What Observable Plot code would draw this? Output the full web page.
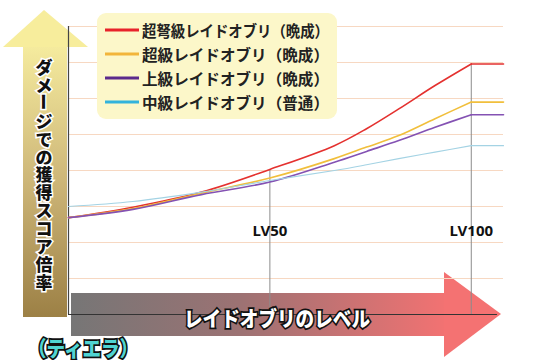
<!DOCTYPE html>
<html><head><meta charset="utf-8">
<script src="https://cdn.jsdelivr.net/npm/d3@7"></script>
<script src="https://cdn.jsdelivr.net/npm/@observablehq/plot@0.6"></script>
<style>body{margin:0;background:#fff;overflow:hidden}</style>
</head><body><div id="chart"></div>
<script>
// ---- data ----
const levels = [0, 16, 33, 50, 66, 74, 82, 91, 100, 108];
const seriesNames = ["超弩級レイドオブリ（晩成）", "超級レイドオブリ（晩成）", "上級レイドオブリ（晩成）", "中級レイドオブリ（普通）"];
const redValues    = [2.69, 2.98, 3.40, 4.03, 4.69, 5.16, 5.71, 6.36, 6.96, 6.96];
const yellowValues = [2.69, 2.94, 3.37, 3.79, 4.33, 4.65, 4.97, 5.44, 5.90, 5.90];
const purpleValues = [2.69, 2.92, 3.33, 3.68, 4.23, 4.53, 4.83, 5.20, 5.55, 5.55];
const blueValues   = [3.00, 3.14, 3.40, 3.72, 4.00, 4.16, 4.33, 4.51, 4.69, 4.69];
const seriesValues = [redValues, yellowValues, purpleValues, blueValues];
const lineColors   = ["#e4312f", "#f1bf3c", "#8452b3", "#a4d3e4"];
const legendColors = ["#e8222a", "#f2b53a", "#5b2a8c", "#33b3dc"];
const lineWidths   = [1.6, 1.6, 1.6, 1.1];
const gridValues   = [1, 2, 3, 4, 5, 6, 7, 8];
const lvTicks      = [50, 100];
const maxLevel     = 100;
const yTitle = "ダメージでの獲得スコア倍率";
const xTitle = "レイドオブリのレベル";
const footText = "（ティエラ）";

const data = [];
seriesNames.forEach((s, i) => levels.forEach((lv, j) => data.push({series: s, level: lv, value: seriesValues[i][j]})));

const chart = Plot.plot({
  width: 540, height: 360,
  marginLeft: 68, marginRight: 37, marginTop: 26, marginBottom: 46,
  x: {domain: [0, 108], axis: null},
  y: {domain: [0, 8], axis: null},
  style: {background: "transparent", fontFamily: "'Noto Sans CJK JP', 'Noto Sans', sans-serif"},
  marks: [
    Plot.ruleY(gridValues, {stroke: "#f7d8c2", strokeWidth: 1}),
    Plot.ruleX(lvTicks, {x: d => d, y1: 0, y2: d => redValues[levels.indexOf(d)], stroke: "#8c8c8c", strokeWidth: 1}),
    Plot.ruleY([0], {x1: 0, x2: 106.5, stroke: "#333", strokeWidth: 1.2}),
    Plot.ruleX([0], {stroke: "#444", strokeWidth: 1.2}),
    ...seriesNames.map((s, i) => Plot.line(data.filter(d => d.series === s && d.level <= maxLevel), {
      x: "level", y: "value", stroke: lineColors[i], strokeWidth: lineWidths[i], curve: "catmull-rom"
    })),
    ...seriesNames.map((s, i) => Plot.line(data.filter(d => d.series === s && d.level >= maxLevel), {
      x: "level", y: "value", stroke: lineColors[i], strokeWidth: lineWidths[i]
    })),
    Plot.text(lvTicks, {x: d => d, frameAnchor: "bottom", dy: -79, text: d => "LV" + d,
      fontSize: 15, fontWeight: "bold", fill: "#111", fontFamily: "'Noto Sans', sans-serif"})
  ]
});
document.getElementById("chart").appendChild(chart);

// ---- decorations ----
const svg = d3.select(chart);
const defs = svg.insert("defs", ":first-child");
const yg = defs.append("linearGradient").attr("id", "yGrad").attr("x1", 0).attr("y1", 0).attr("x2", 0).attr("y2", 1);
yg.append("stop").attr("offset", 0).attr("stop-color", "#f5eb9e");
yg.append("stop").attr("offset", 0.5).attr("stop-color", "#cdb678");
yg.append("stop").attr("offset", 1).attr("stop-color", "#9c8045");
const xg = defs.append("linearGradient").attr("id", "xGrad").attr("x1", 0).attr("y1", 0).attr("x2", 1).attr("y2", 0);
xg.append("stop").attr("offset", 0).attr("stop-color", "#767676");
xg.append("stop").attr("offset", 0.45).attr("stop-color", "#9c7273");
xg.append("stop").attr("offset", 1).attr("stop-color", "#f27272");

const back = svg.insert("g", "defs + *");
// y arrow
back.append("rect").attr("x", 23).attr("y", 46).attr("width", 44).attr("height", 271).attr("fill", "url(#yGrad)");
back.append("polygon").attr("points", "3,47 44,10 88,47").attr("fill", "#f7ed9c");
// x arrow
back.append("rect").attr("x", 71).attr("y", 293).attr("width", 374).attr("height", 43).attr("fill", "url(#xGrad)");
back.append("polygon").attr("points", "444,272 501,314 444,357").attr("fill", "#f47272");

const front = svg.append("g").attr("text-anchor", "start");
// y title (vertical, one glyph per step; the long vowel mark is turned upright)
const yt = front.append("text")
  .attr("font-size", 17).attr("font-weight", 900)
  .attr("font-family", "'Noto Sans CJK JP', sans-serif")
  .attr("fill", "#111").attr("stroke", "#fff").attr("stroke-width", 3).attr("paint-order", "stroke")
  .attr("text-anchor", "middle").attr("dominant-baseline", "central");
Array.from(yTitle).forEach((ch, i) => {
  const cx = 44, cy = 66 + i * 17.9;
  const t = yt.append("tspan").attr("x", cx).attr("y", cy).text(ch);
  if (ch === "ー") {
    front.append("text").attr("x", cx).attr("y", cy)
      .attr("font-size", 17).attr("font-weight", 900)
      .attr("font-family", "'Noto Sans CJK JP', sans-serif")
      .attr("fill", "#111").attr("stroke", "#fff").attr("stroke-width", 3).attr("paint-order", "stroke")
      .attr("text-anchor", "middle").attr("dominant-baseline", "central")
      .attr("transform", `rotate(90 ${cx} ${cy})`).text(ch);
    t.text("");
  }
});
// x title
front.append("text").attr("x", 277).attr("y", 317)
  .attr("text-anchor", "middle").attr("dominant-baseline", "central")
  .attr("font-size", 21).attr("font-weight", 900)
  .attr("font-family", "'Noto Sans CJK JP', sans-serif")
  .attr("textLength", 186).attr("lengthAdjust", "spacingAndGlyphs")
  .attr("fill", "#fff").attr("stroke", "#111").attr("stroke-width", 3.5).attr("paint-order", "stroke")
  .text(xTitle);
// legend
const lg = front.append("g");
lg.append("rect").attr("x", 97).attr("y", 13).attr("width", 240).attr("height", 106).attr("rx", 9).attr("fill", "#fcf7c9");
seriesNames.forEach((s, i) => {
  const cy = 30 + i * 24;
  lg.append("line").attr("x1", 105).attr("x2", 139).attr("y1", cy).attr("y2", cy)
    .attr("stroke", legendColors[i]).attr("stroke-width", 3);
  lg.append("text").attr("x", 142).attr("y", cy).attr("dominant-baseline", "central")
    .attr("text-anchor", "start")
    .attr("font-size", 15.5).attr("font-weight", 700)
    .attr("font-family", "'Noto Sans CJK JP', sans-serif")
    .attr("textLength", 187).attr("lengthAdjust", "spacingAndGlyphs")
    .attr("fill", "#222").text(s);
});
// footer text
front.append("text").attr("x", 28).attr("y", 347).attr("dominant-baseline", "central")
  .attr("text-anchor", "start")
  .attr("font-size", 21).attr("font-weight", 900)
  .attr("font-family", "'Noto Sans CJK JP', sans-serif")
  .attr("textLength", 110).attr("lengthAdjust", "spacingAndGlyphs")
  .attr("fill", "#4fd4d2").attr("stroke", "#111").attr("stroke-width", 3.5).attr("paint-order", "stroke")
  .text(footText);
</script>
</body></html>
